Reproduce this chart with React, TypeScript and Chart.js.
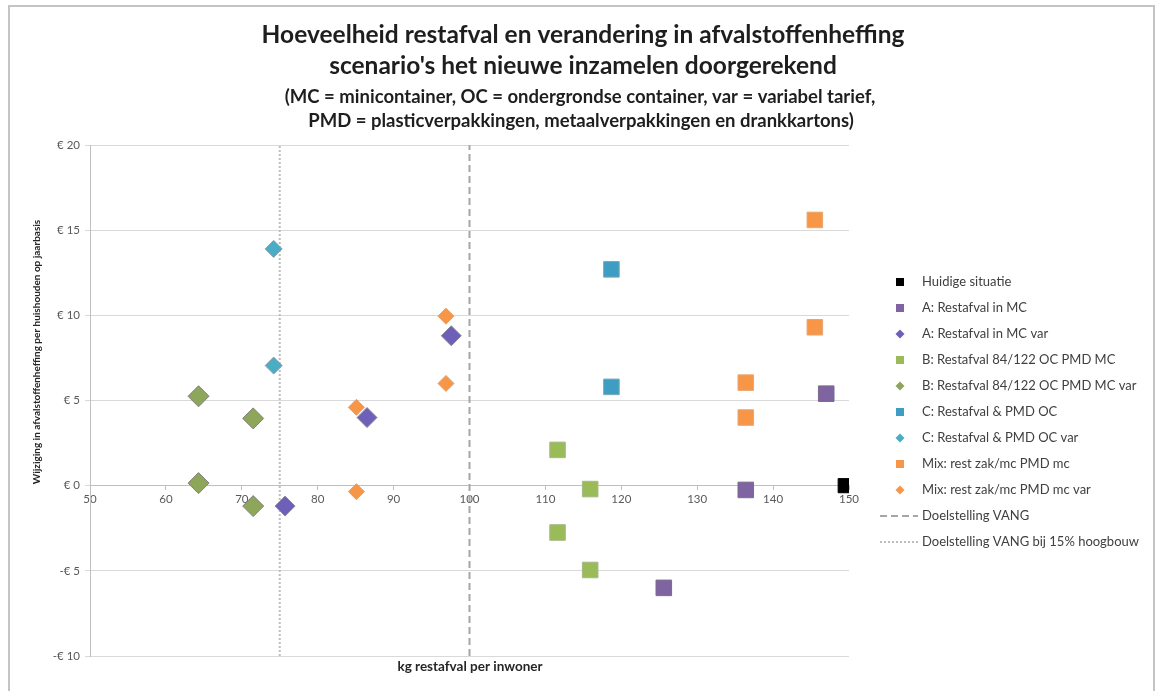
import React, { useEffect, useRef } from "react";
import { Chart, registerables } from "chart.js";

Chart.register(...registerables);

// ---- Texts ----
const titleLines = [
  "Hoeveelheid restafval en verandering in afvalstoffenheffing",
  "scenario's het nieuwe inzamelen doorgerekend",
];
const subtitleLines = [
  "(MC = minicontainer, OC = ondergrondse container, var = variabel tarief,",
  "PMD = plasticverpakkingen, metaalverpakkingen en drankkartons)",
];
const xAxisTitle = "kg restafval per inwoner";
const yAxisTitle = "Wijziging in afvalstoffenheffing per huishouden op jaarbasis";

// ---- Axis ticks ----
const xTickValues = [50, 60, 70, 80, 90, 100, 110, 120, 130, 140, 150];
const yTickValues = [-10, -5, 0, 5, 10, 15, 20];
const yTickLabels = ["-€ 10", "-€ 5", "€ 0", "€ 5", "€ 10", "€ 15", "€ 20"];

// ---- Series ----
const huidigeSituatie = [{ x: 149.5, y: 0 }];
const aRestafvalMC = [
  { x: 136.4, y: -0.25 },
  { x: 147.0, y: 5.4 },
  { x: 125.6, y: -6.0 },
];
const aRestafvalMCVar = [
  { x: 75.7, y: -1.2 },
  { x: 86.5, y: 4.0 },
  { x: 97.6, y: 8.8 },
];
const bRestafvalOCMC = [
  { x: 111.6, y: 2.1 },
  { x: 115.9, y: -0.2 },
  { x: 111.6, y: -2.75 },
  { x: 115.9, y: -4.95 },
];
const bRestafvalOCMCVar = [
  { x: 64.3, y: 5.25 },
  { x: 71.5, y: 3.95 },
  { x: 64.3, y: 0.15 },
  { x: 71.5, y: -1.2 },
];
const cRestafvalPMDOC = [
  { x: 118.7, y: 12.7 },
  { x: 118.7, y: 5.8 },
];
const cRestafvalPMDOCVar = [
  { x: 74.2, y: 13.9 },
  { x: 74.2, y: 7.05 },
];
const mixPMDmc = [
  { x: 145.5, y: 15.6 },
  { x: 145.5, y: 9.3 },
  { x: 136.4, y: 6.05 },
  { x: 136.4, y: 4.0 },
];
const mixPMDmcVar = [
  { x: 96.9, y: 9.95 },
  { x: 96.9, y: 6.0 },
  { x: 85.1, y: 4.6 },
  { x: 85.1, y: -0.35 },
];
const doelstellingVANG = [
  { x: 100, y: -10 },
  { x: 100, y: 20 },
];
const doelstellingVANG15 = [
  { x: 75, y: -10 },
  { x: 75, y: 20 },
];

const FONT = "Lato, 'Open Sans', sans-serif";

const decorPlugin = {
  id: "decor",
  beforeDraw(chart: any) {
    const ctx = chart.ctx;
    ctx.save();
    ctx.fillStyle = "#ffffff";
    ctx.fillRect(0, 0, chart.width, chart.height);
    ctx.strokeStyle = "#c4c4c4";
    ctx.lineWidth = 2;
    ctx.strokeRect(9, 6, 1145, 700);
    ctx.restore();
  },
  afterDraw(chart: any) {
    const ctx = chart.ctx;
    const area = chart.chartArea;
    ctx.save();
    ctx.fillStyle = "#1e1e1e";
    ctx.textAlign = "center";
    ctx.textBaseline = "middle";
    ctx.font = `bold 24.5px ${FONT}`;
    ctx.fillText(titleLines[0], 583, 35);
    ctx.fillText(titleLines[1], 583, 66);
    ctx.font = `bold 18.5px ${FONT}`;
    ctx.fillText(subtitleLines[0], 580, 97);
    ctx.fillText(subtitleLines[1], 581, 121);

    // axis titles
    ctx.fillStyle = "#262626";
    ctx.font = `bold 13.5px ${FONT}`;
    ctx.fillText(xAxisTitle, 470, 667);
    ctx.save();
    ctx.translate(37, 352);
    ctx.rotate(-Math.PI / 2);
    ctx.font = `bold 10px ${FONT}`;
    ctx.fillText(yAxisTitle, 0, 0);
    ctx.restore();

    // legend
    const mx = 900;
    const tx = 922;
    let y = 282;
    ctx.textAlign = "left";
    ctx.font = `13px ${FONT}`;
    chart.data.datasets.forEach((ds: any) => {
      if (ds.showLine) {
        ctx.save();
        ctx.strokeStyle = ds.borderColor;
        ctx.lineWidth = ds.borderWidth;
        ctx.setLineDash(ds.borderDash || []);
        ctx.beginPath();
        ctx.moveTo(880, y);
        ctx.lineTo(918, y);
        ctx.stroke();
        ctx.restore();
      } else {
        ctx.save();
        ctx.fillStyle = ds.backgroundColor;
        ctx.strokeStyle = ds.borderColor;
        ctx.lineWidth = 1;
        ctx.beginPath();
        if (ds.pointStyle === "rect") {
          ctx.rect(mx - 4, y - 4, 8, 8);
        } else {
          ctx.moveTo(mx, y - 4.5);
          ctx.lineTo(mx + 4.5, y);
          ctx.lineTo(mx, y + 4.5);
          ctx.lineTo(mx - 4.5, y);
          ctx.closePath();
        }
        ctx.fill();
        ctx.restore();
      }
      ctx.fillStyle = "#404040";
      ctx.fillText(ds.label, tx, y);
      y += 26;
    });
    ctx.restore();
  },
};

function pointSet(label: string, data: any[], style: string, fill: string, border: string, radius: number) {
  return {
    label,
    data,
    pointStyle: style,
    backgroundColor: fill,
    borderColor: border,
    pointBackgroundColor: fill,
    pointBorderColor: border,
    pointBorderWidth: 1,
    pointRadius: radius,
    pointHoverRadius: radius,
    showLine: false,
  };
}

function lineSet(label: string, data: any[], color: string, dash: number[]) {
  return {
    label,
    data,
    showLine: true,
    borderColor: color,
    backgroundColor: color,
    borderWidth: 2,
    borderDash: dash,
    pointRadius: 0,
    pointHoverRadius: 0,
    fill: false,
  };
}

export default function App() {
  const ref = useRef<HTMLCanvasElement | null>(null);
  useEffect(() => {
    if (!ref.current) return;
    const chart = new Chart(ref.current, {
      type: "scatter",
      data: {
        datasets: [
          pointSet("Huidige situatie", huidigeSituatie, "rect", "#000000", "#000000", 10),
          pointSet("A: Restafval in MC", aRestafvalMC, "rect", "#8064A2", "#7a6a8e", 11),
          pointSet("A: Restafval in MC var", aRestafvalMCVar, "rectRot", "#6E5FB8", "#8a8a9a", 10),
          pointSet("B: Restafval 84/122 OC PMD MC", bRestafvalOCMC, "rect", "#9BBB59", "#a5b88a", 11),
          pointSet("B: Restafval 84/122 OC PMD MC var", bRestafvalOCMCVar, "rectRot", "#8DA65A", "#808080", 10.5),
          pointSet("C: Restafval & PMD OC", cRestafvalPMDOC, "rect", "#3D9DC3", "#7aa7b8", 11),
          pointSet("C: Restafval & PMD OC var", cRestafvalPMDOCVar, "rectRot", "#4BACC6", "#8a9ea6", 8.5),
          pointSet("Mix: rest zak/mc PMD mc", mixPMDmc, "rect", "#F79646", "#e8a672", 11),
          pointSet("Mix: rest zak/mc PMD mc var", mixPMDmcVar, "rectRot", "#F79646", "#e0a070", 8),
          lineSet("Doelstelling VANG", doelstellingVANG, "#a6a6a6", [7, 4]),
          lineSet("Doelstelling VANG bij 15% hoogbouw", doelstellingVANG15, "#bdbdbd", [2, 2]),
        ] as any,
      },
      options: {
        responsive: false,
        animation: false,
        events: [],
        layout: { padding: { left: 8, right: 311, top: 145, bottom: 35 } },
        plugins: {
          legend: { display: false },
          tooltip: { enabled: false },
          title: { display: false },
        },
        scales: {
          x: {
            type: "linear",
            position: { y: 0 } as any,
            min: 50,
            max: 150,
            afterBuildTicks: (s: any) => {
              s.ticks = xTickValues.map((v) => ({ value: v }));
            },
            afterFit: (s: any) => {
              s.height = 0;
            },
            ticks: {
              font: { family: FONT, size: 11.5 },
              color: "#595959",
              padding: 3,
              maxRotation: 0,
              autoSkip: false,
            },
            grid: {
              drawOnChartArea: false,
              drawTicks: true,
              tickLength: 4,
              color: "#bfbfbf",
            },
            border: { display: true, color: "#bfbfbf", width: 1 },
          },
          y: {
            type: "linear",
            position: "left",
            min: -10,
            max: 20,
            afterBuildTicks: (s: any) => {
              s.ticks = yTickValues.map((v) => ({ value: v }));
            },
            afterFit: (s: any) => {
              s.width = 82;
            },
            ticks: {
              font: { family: FONT, size: 11.5 },
              color: "#595959",
              padding: 5,
              callback: (v: any) => {
                const i = yTickValues.indexOf(Number(v));
                return i >= 0 ? yTickLabels[i] : "";
              },
            },
            grid: {
              color: "#d9d9d9",
              tickLength: 5,
              drawTicks: true,
            },
            border: { display: true, color: "#bfbfbf", width: 1 },
          },
        },
      },
      plugins: [decorPlugin],
    });
    return () => chart.destroy();
  }, []);
  return (
    <div style={{ position: "absolute", left: 0, top: 0, width: 1160, height: 691 }}>
      <canvas ref={ref} width={1160} height={691} style={{ width: 1160, height: 691, display: "block" }} />
    </div>
  );
}
